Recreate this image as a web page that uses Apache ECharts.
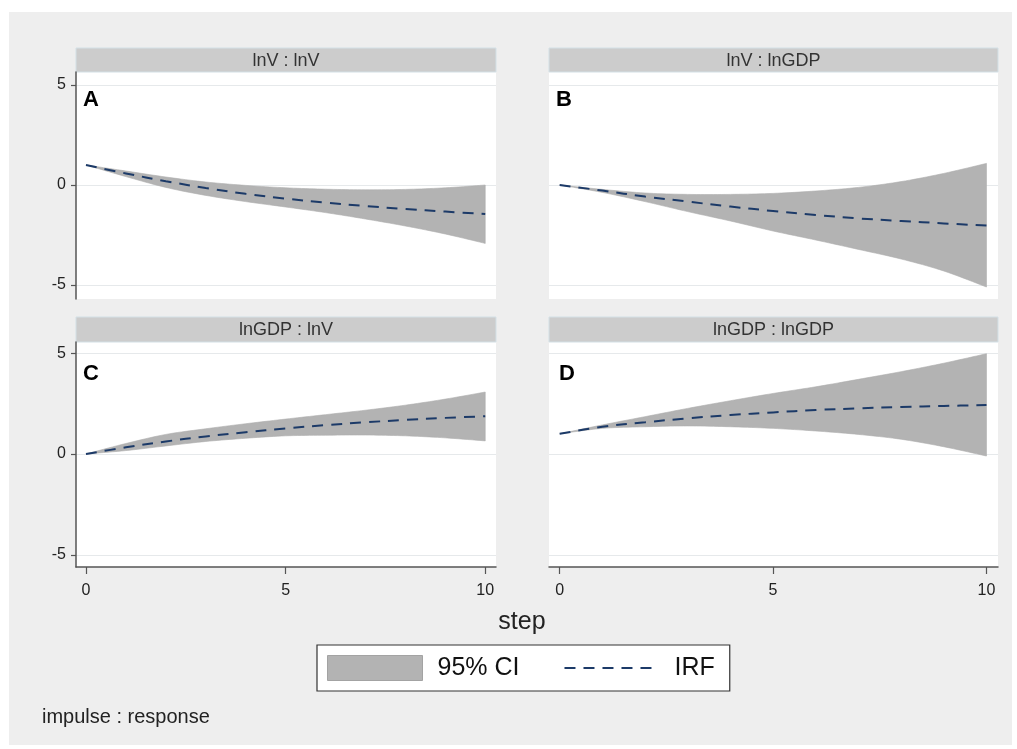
<!DOCTYPE html>
<html><head><meta charset="utf-8">
<script src="https://cdn.jsdelivr.net/npm/echarts@6/dist/echarts.min.js"></script>
<style>html,body{margin:0;padding:0;background:#fff}#c{width:1017px;height:749px}</style>
</head><body><div id="c"></div>
<script>
// ---- data ----
const steps = [0, 1, 2, 3, 4, 5, 6, 7, 8, 9, 10];
const xTicks = [0, 5, 10];
const yTicks = [-5, 0, 5];
const titles = ['lnV : lnV', 'lnV : lnGDP', 'lnGDP : lnV', 'lnGDP : lnGDP'];
const letters = ['A', 'B', 'C', 'D'];

const irfA = [1.0, 0.58, 0.19, -0.15, -0.44, -0.68, -0.88, -1.05, -1.2, -1.33, -1.45];
const hiA  = [1.0, 0.7, 0.4, 0.15, -0.02, -0.14, -0.21, -0.24, -0.22, -0.14, 0.0];
const loA  = [1.0, 0.42, -0.12, -0.52, -0.83, -1.1, -1.38, -1.7, -2.05, -2.45, -2.92];

const irfB = [0, -0.28, -0.58, -0.83, -1.08, -1.3, -1.5, -1.67, -1.8, -1.92, -2.03];
const hiB  = [0, -0.22, -0.4, -0.47, -0.47, -0.42, -0.3, -0.12, 0.17, 0.58, 1.08];
const loB  = [0, -0.37, -0.83, -1.33, -1.8, -2.3, -2.75, -3.22, -3.7, -4.3, -5.1];

const irfC = [0, 0.33, 0.62, 0.87, 1.08, 1.27, 1.43, 1.57, 1.69, 1.79, 1.87];
const hiC  = [0, 0.52, 0.97, 1.25, 1.5, 1.73, 1.95, 2.17, 2.42, 2.72, 3.07];
const loC  = [0, 0.17, 0.4, 0.62, 0.78, 0.9, 0.93, 0.94, 0.9, 0.8, 0.65];

const irfD = [1.0, 1.35, 1.57, 1.77, 1.93, 2.06, 2.18, 2.26, 2.33, 2.38, 2.43];
const hiD  = [1.0, 1.44, 1.85, 2.26, 2.64, 3.0, 3.33, 3.7, 4.08, 4.5, 4.97];
const loD  = [1.0, 1.27, 1.35, 1.39, 1.35, 1.27, 1.14, 0.97, 0.73, 0.36, -0.1];

const irfs = [irfA, irfB, irfC, irfD];
const his = [hiA, hiB, hiC, hiD];
const los = [loA, loB, loC, loD];

// ---- style / layout ----
const FONT = "'Liberation Sans', Arial, Helvetica, sans-serif";
const BAND = '#b3b3b3';
const NAVY = '#1c3a68';
const AX = '#555555';
const GRIDC = '#e6e9eb';
const layout = [
  {left: 76,  top: 72,  width: 420, height: 227, ymin: -5.7, ymax: 5.65, showY: true,  showX: false, hTop: 48,  hH: 24, lx: 83,  ly: 100},
  {left: 549, top: 72,  width: 449, height: 227, ymin: -5.7, ymax: 5.65, showY: false, showX: false, hTop: 48,  hH: 24, lx: 556, ly: 100},
  {left: 76,  top: 342, width: 420, height: 225, ymin: -5.6, ymax: 5.55, showY: true,  showX: true,  hTop: 317, hH: 25, lx: 83,  ly: 374},
  {left: 549, top: 342, width: 449, height: 225, ymin: -5.6, ymax: 5.55, showY: false, showX: true,  hTop: 317, hH: 25, lx: 559, ly: 374}
];

// Catmull-Rom curve through already-projected pixel points (visual smoothing only)
function spline(pts, n) {
  const out = [];
  for (let k = 0; k < pts.length - 1; k++) {
    const p0 = pts[Math.max(k - 1, 0)], p1 = pts[k], p2 = pts[k + 1], p3 = pts[Math.min(k + 2, pts.length - 1)];
    for (let j = 0; j < n; j++) {
      const t = j / n, t2 = t * t, t3 = t2 * t;
      out.push([0, 1].map(d => 0.5 * ((2 * p1[d]) + (-p0[d] + p2[d]) * t +
        (2 * p0[d] - 5 * p1[d] + 4 * p2[d] - p3[d]) * t2 +
        (-p0[d] + 3 * p1[d] - 3 * p2[d] + p3[d]) * t3)));
    }
  }
  out.push(pts[pts.length - 1]);
  return out;
}

const grids = [], xAxes = [], yAxes = [], series = [];
const graphics = [{
  type: 'rect', z: -100, shape: {x: 9, y: 12, width: 1003, height: 733},
  style: {fill: '#eeeeee'}, silent: true
}];

layout.forEach((L, i) => {
  grids.push({left: L.left, top: L.top, width: L.width, height: L.height,
    show: true, backgroundColor: '#ffffff', borderWidth: 0, containLabel: false, outerBoundsMode: 'none'});
  xAxes.push({
    gridIndex: i, type: 'value', min: -0.25, max: 10.27,
    axisLine: {show: L.showX, onZero: false, lineStyle: {color: AX, width: 1.5}},
    axisTick: {show: L.showX, length: 7, customValues: xTicks, lineStyle: {color: AX, width: 1.2}},
    axisLabel: {show: L.showX, customValues: xTicks, fontSize: 16, color: '#222', margin: 16, fontFamily: FONT},
    splitLine: {show: false}
  });
  yAxes.push({
    gridIndex: i, type: 'value', min: L.ymin, max: L.ymax,
    axisLine: {show: L.showY, onZero: false, lineStyle: {color: AX, width: 1.5}},
    axisTick: {show: L.showY, length: 5, customValues: yTicks, lineStyle: {color: AX, width: 1.2}},
    axisLabel: {show: L.showY, customValues: yTicks, fontSize: 16, color: '#222', margin: 10, fontFamily: FONT},
    splitLine: {show: true, lineStyle: {color: GRIDC, width: 1}}
  });
  const hi = his[i], lo = los[i], irf = irfs[i];
  series.push({
    type: 'custom', name: '95% CI', xAxisIndex: i, yAxisIndex: i,
    data: [[steps[0], lo[0]]], itemStyle: {color: BAND}, silent: true, z: 2,
    renderItem: function (params, api) {
      const up = steps.map((s, k) => api.coord([s, hi[k]]));
      const dn = steps.map((s, k) => api.coord([s, lo[k]]));
      const pts = spline(up, 10).concat(spline(dn, 10).reverse());
      return {type: 'polygon', shape: {points: pts}, style: {fill: BAND, stroke: '#adadad', lineWidth: 0.6}};
    }
  });
  series.push({
    type: 'line', name: 'IRF', xAxisIndex: i, yAxisIndex: i,
    data: steps.map((s, k) => [s, irf[k]]), symbol: 'none', smooth: 0.35, silent: true, z: 3,
    lineStyle: {color: NAVY, width: 2, type: [11, 8]}, itemStyle: {color: NAVY}
  });
  // header strip
  graphics.push({type: 'rect', shape: {x: L.left, y: L.hTop, width: L.width, height: L.hH},
    style: {fill: '#cccccc', stroke: '#d3e0e6', lineWidth: 1}, silent: true});
  graphics.push({type: 'text', x: L.left + L.width / 2, y: L.hTop + L.hH / 2 + 1, silent: true,
    style: {text: titles[i], fontSize: 18, fontFamily: FONT, fill: '#333',
      textAlign: 'center', textVerticalAlign: 'middle', align: 'center', verticalAlign: 'middle'}});
  // panel letter
  graphics.push({type: 'text', x: L.lx, y: L.ly, silent: true, z: 10,
    style: {text: letters[i], fontSize: 22, fontWeight: 'bold', fontFamily: FONT, fill: '#000',
      textAlign: 'left', textVerticalAlign: 'middle', align: 'left', verticalAlign: 'middle'}});
});

graphics.push({type: 'text', x: 522, y: 622, silent: true,
  style: {text: 'step', fontSize: 25, fontFamily: FONT, fill: '#222',
    textAlign: 'center', textVerticalAlign: 'middle', align: 'center', verticalAlign: 'middle'}});
graphics.push({type: 'text', x: 42, y: 717, silent: true,
  style: {text: 'impulse : response', fontSize: 20, fontFamily: FONT, fill: '#222',
    textAlign: 'left', textVerticalAlign: 'middle', align: 'left', verticalAlign: 'middle'}});

const chart = echarts.init(document.getElementById('c'), null, {renderer: 'canvas'});
chart.setOption({
  animation: false,
  backgroundColor: '#ffffff',
  grid: grids, xAxis: xAxes, yAxis: yAxes, series: series,
  graphic: {elements: graphics},
  legend: {
    left: 317, top: 645, orient: 'horizontal', selectedMode: false,
    backgroundColor: '#ffffff', borderColor: '#333', borderWidth: 1.2,
    padding: [10, 15, 10, 10], itemWidth: 95, itemHeight: 25, itemGap: 44,
    textStyle: {fontSize: 25, fontFamily: FONT, color: '#111', padding: [0, 0, 0, 10]},
    data: [
      {name: '95% CI', icon: 'rect', itemStyle: {color: BAND, borderColor: '#a3a3a3', borderWidth: 1}},
      {name: 'IRF', itemStyle: {opacity: 0}}
    ]
  }
});
</script></body></html>
